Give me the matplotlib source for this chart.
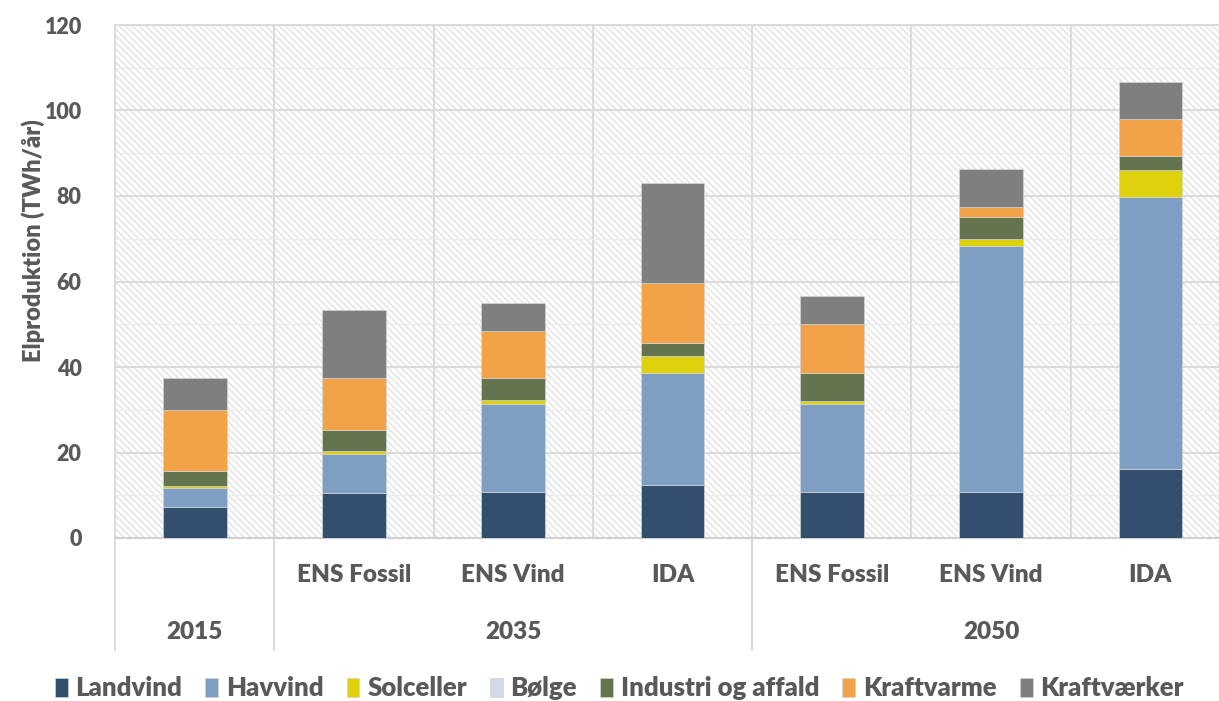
import numpy as np
import matplotlib
matplotlib.use("Agg")
import matplotlib.pyplot as plt
from matplotlib.patches import Rectangle

plt.rcParams['font.family'] = ['Lato', 'DejaVu Sans']
plt.rcParams['font.weight'] = 'heavy'
plt.rcParams['hatch.linewidth'] = 1.1

# kategorier (scenarie, år)
scenarios = ["", "ENS Fossil", "ENS Vind", "IDA", "ENS Fossil", "ENS Vind", "IDA"]
years = ["2015", "2035", "2050"]
year_groups = [[0], [1, 2, 3], [4, 5, 6]]

# elproduktion i TWh/år pr. kilde
landvind    = [7.2, 10.6, 10.8, 12.5, 10.8, 10.8, 16.2]
havvind     = [4.5, 9.0, 20.6, 26.2, 20.6, 57.5, 63.5]
solceller   = [0.5, 0.7, 0.9, 3.9, 0.7, 1.7, 6.4]
boelge      = [0.0, 0.0, 0.0, 0.0, 0.0, 0.0, 0.0]
industri    = [3.5, 5.0, 5.1, 2.9, 6.6, 5.2, 3.2]
kraftvarme  = [14.2, 12.1, 11.0, 14.1, 11.3, 2.3, 8.7]
kraftvaerker = [7.6, 15.9, 6.6, 23.4, 6.5, 8.9, 8.7]

series = [
    ("Landvind", landvind, "#334f6e"),
    ("Havvind", havvind, "#7f9ec3"),
    ("Solceller", solceller, "#ded00a"),
    ("Bølge", boelge, "#cfd9e8"),
    ("Industri og affald", industri, "#64744f"),
    ("Kraftvarme", kraftvarme, "#f2a347"),
    ("Kraftværker", kraftvaerker, "#7f7f7f"),
]

TXT = "#595959"
GRID = "#d9d9d9"

fig = plt.figure(figsize=(12.19, 7.01), dpi=100)
ax = fig.add_axes([115 / 1219, 163 / 701, 1115 / 1219, 513 / 701])

# skraveret baggrund
ax.add_patch(Rectangle((0, 0), 1, 1, transform=ax.transAxes, facecolor="white",
                       edgecolor="#e4e4e4", hatch="\\" * 5, linewidth=0, zorder=0.1))

x = np.arange(len(scenarios))
bottom = np.zeros(len(x))
for name, vals, col in series:
    vals = np.array(vals)
    ax.bar(x, vals, 0.4, bottom=bottom, color=col, label=name,
           edgecolor="#d4d4d4", linewidth=0.5, zorder=3)
    bottom += vals

ax.set_xlim(-0.5, len(x) - 0.5)
ax.set_ylim(0, 120)
ax.set_yticks(np.arange(0, 121, 20))
ax.set_yticks(np.arange(10, 120, 20), minor=True)
ax.yaxis.grid(True, which="major", color=GRID, linewidth=1.3, zorder=0.5)
ax.yaxis.grid(True, which="minor", color="#ececec", linewidth=1.0, zorder=0.5)
for xv in np.arange(0.5, len(x) - 1, 1):
    ax.axvline(xv, color=GRID, linewidth=1.3, zorder=0.5)
ax.set_axisbelow(True)
ax.set_xticks([])
ax.tick_params(axis="y", length=0, pad=24, labelsize=15.5, labelcolor=TXT)
ax.tick_params(axis="y", which="minor", length=0)
for lab in ax.get_yticklabels():
    lab.set_fontweight("heavy")
for s in ["left", "top", "right"]:
    ax.spines[s].set_color(GRID)
    ax.spines[s].set_linewidth(1.3)
ax.spines["bottom"].set_color("#d0d0d0")
ax.spines["bottom"].set_linewidth(1.5)

ax.set_ylabel("Elproduktion (TWh/år)", fontsize=17, color=TXT, fontweight="heavy")
ax.yaxis.set_label_coords(-0.063, 0.58)

# hierarkisk x-akse
tr = ax.get_xaxis_transform()
for xi, lab in zip(x, scenarios):
    ax.text(xi, -0.072, lab, transform=tr, ha="center", va="center",
            fontsize=17.5, color=TXT, fontweight="heavy")
for yr, grp in zip(years, year_groups):
    ax.text(np.mean(grp), -0.183, yr, transform=tr, ha="center", va="center",
            fontsize=17.5, color=TXT, fontweight="heavy")
for grp in year_groups:
    for edge in (grp[0] - 0.5, grp[-1] + 0.5):
        ax.plot([edge, edge], [0, -0.218], transform=tr, color=GRID,
                linewidth=1.3, clip_on=False)

fig.legend(loc="center", bbox_to_anchor=(0.508, 0.018), ncol=7, frameon=False,
           prop={"size": 18.5, "weight": "heavy"}, labelcolor=TXT,
           handlelength=0.5, handleheight=0.75, handletextpad=0.3,
           columnspacing=0.9, borderaxespad=0)

fig.savefig("out.png", dpi=100)
